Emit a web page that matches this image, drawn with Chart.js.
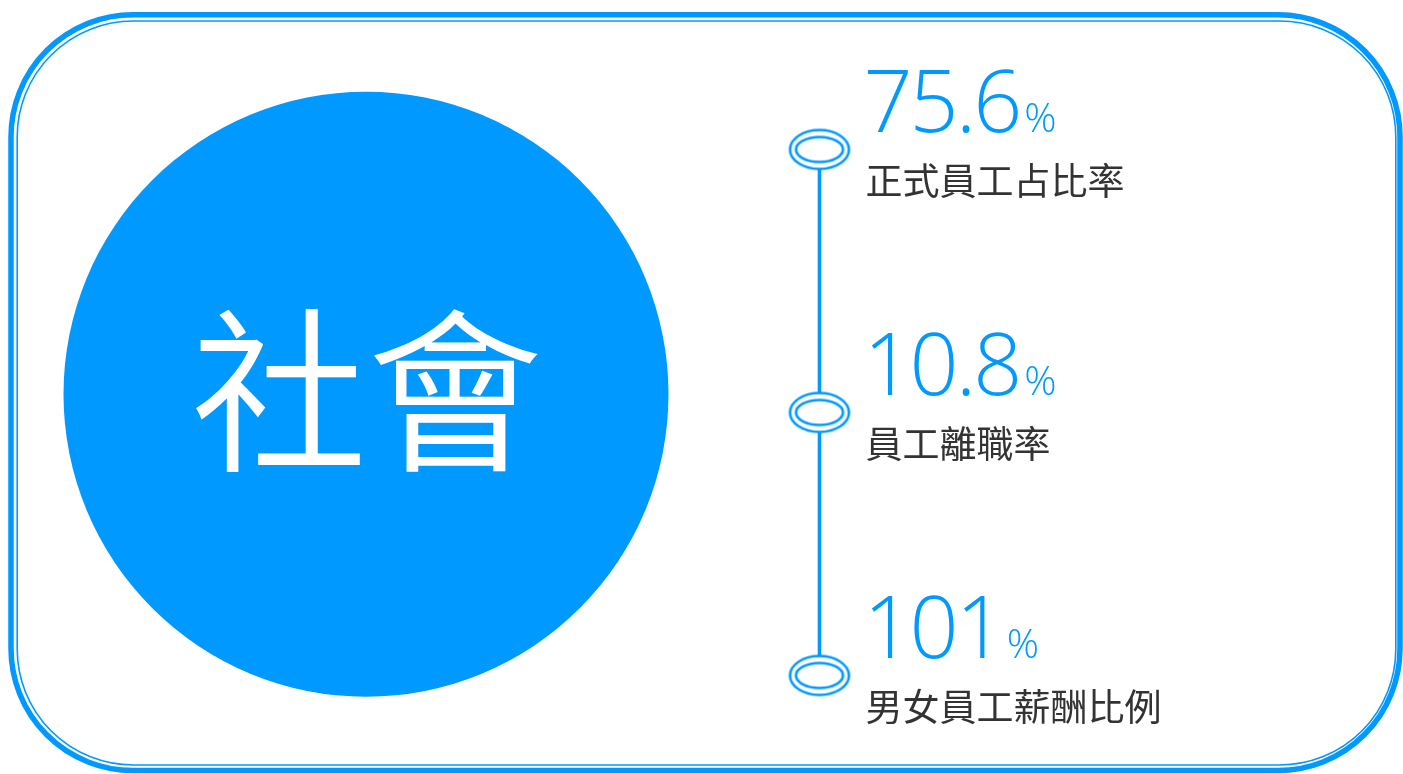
<!DOCTYPE html>
<html lang="zh-Hant">
<head>
    <meta charset="UTF-8">
    <title>社會</title>
    <script src="https://cdn.jsdelivr.net/npm/chart.js"></script>
    <style>
        html, body { margin: 0; padding: 0; background: #fff; }
        #wrap { width: 1403px; height: 774px; position: relative; }
    </style>
</head>
<body>
    <div id="wrap"><canvas id="socialChart"></canvas></div>

    <script>
        // data
        const titleText = '社會';
        const metricLabels = ['正式員工占比率', '員工離職率', '男女員工薪酬比例'];
        const metricValues = ['75.6', '10.8', '101'];
        const valueUnit = '%';

        const blue = '#0099ff';
        const cjk = '"Noto Sans CJK TC", "Noto Sans CJK SC", sans-serif';
        const latin = '"Open Sans", "Noto Sans", sans-serif';

        // double ellipse marker used as point style
        function makeRing() {
            const c = document.createElement('canvas');
            c.width = 68; c.height = 46;
            const g = c.getContext('2d');
            g.fillStyle = '#fff';
            g.beginPath(); g.ellipse(34, 23, 29.5, 19.5, 0, 0, Math.PI * 2); g.fill();
            g.strokeStyle = blue;
            g.lineWidth = 2.6;
            g.beginPath(); g.ellipse(34, 23, 29.5, 19.5, 0, 0, Math.PI * 2); g.stroke();
            g.beginPath(); g.ellipse(34, 23, 23.5, 12.5, 0, 0, Math.PI * 2); g.stroke();
            return c;
        }

        function roundRect(ctx, x, y, w, h, r) {
            ctx.beginPath();
            ctx.moveTo(x + r, y);
            ctx.arcTo(x + w, y, x + w, y + h, r);
            ctx.arcTo(x + w, y + h, x, y + h, r);
            ctx.arcTo(x, y + h, x, y, r);
            ctx.arcTo(x, y, x + w, y, r);
            ctx.closePath();
        }

        const framePlugin = {
            id: 'frame',
            beforeDraw(chart) {
                const ctx = chart.ctx;
                ctx.save();
                ctx.fillStyle = '#fff';
                ctx.fillRect(0, 0, chart.width, chart.height);

                // double border
                ctx.strokeStyle = blue;
                ctx.lineWidth = 5.5;
                roundRect(ctx, 11, 14.8, 1389, 755.7, 122);
                ctx.stroke();
                ctx.lineWidth = 1.6;
                roundRect(ctx, 17.2, 21, 1378.6, 744, 116);
                ctx.stroke();

                // big circle with title
                ctx.fillStyle = blue;
                ctx.beginPath();
                ctx.arc(366, 394.2, 302.5, 0, Math.PI * 2);
                ctx.fill();
                ctx.fillStyle = '#fff';
                ctx.font = '350 176px ' + cjk;
                ctx.textAlign = 'center';
                ctx.textBaseline = 'middle';
                ctx.fillText(titleText, 367, 391);
                ctx.restore();
            },
            afterDatasetsDraw(chart) {
                const ctx = chart.ctx;
                const pts = chart.getDatasetMeta(0).data;
                ctx.save();
                ctx.textAlign = 'left';
                pts.forEach((p, i) => {
                    const x0 = p.x + 44;
                    ctx.fillStyle = blue;
                    ctx.textBaseline = 'alphabetic';
                    ctx.letterSpacing = '-3px';
                    ctx.font = '350 86px ' + latin;
                    ctx.fillText(metricValues[i], x0, p.y - 18);
                    const w = ctx.measureText(metricValues[i]).width;
                    ctx.letterSpacing = '0px';
                    ctx.font = '350 40px ' + latin;
                    ctx.fillText(valueUnit, x0 + w + 5, p.y - 18);

                    ctx.fillStyle = '#333';
                    ctx.textBaseline = 'middle';
                    ctx.font = '37px ' + cjk;
                    ctx.fillText(metricLabels[i], p.x + 46, p.y + 31);
                });
                ctx.restore();
            }
        };

        new Chart(document.getElementById('socialChart'), {
            type: 'line',
            data: {
                labels: metricLabels,
                datasets: [{
                    data: metricLabels.map((l, i) => ({ x: 0, y: i })),
                    borderColor: blue,
                    borderWidth: 3.6,
                    pointStyle: makeRing(),
                    pointRadius: 20,
                    pointHoverRadius: 20,
                    clip: false,
                    fill: false
                }]
            },
            options: {
                responsive: true,
                maintainAspectRatio: false,
                animation: false,
                layout: { padding: { left: 819.5, right: 0, top: 149.5, bottom: 98.5 } },
                scales: {
                    x: { type: 'linear', display: false, min: 0, max: 1 },
                    y: { type: 'linear', display: false, reverse: true, min: 0, max: 2 }
                },
                plugins: {
                    legend: { display: false },
                    tooltip: { enabled: false }
                }
            },
            plugins: [framePlugin]
        });
    </script>
</body>
</html>
